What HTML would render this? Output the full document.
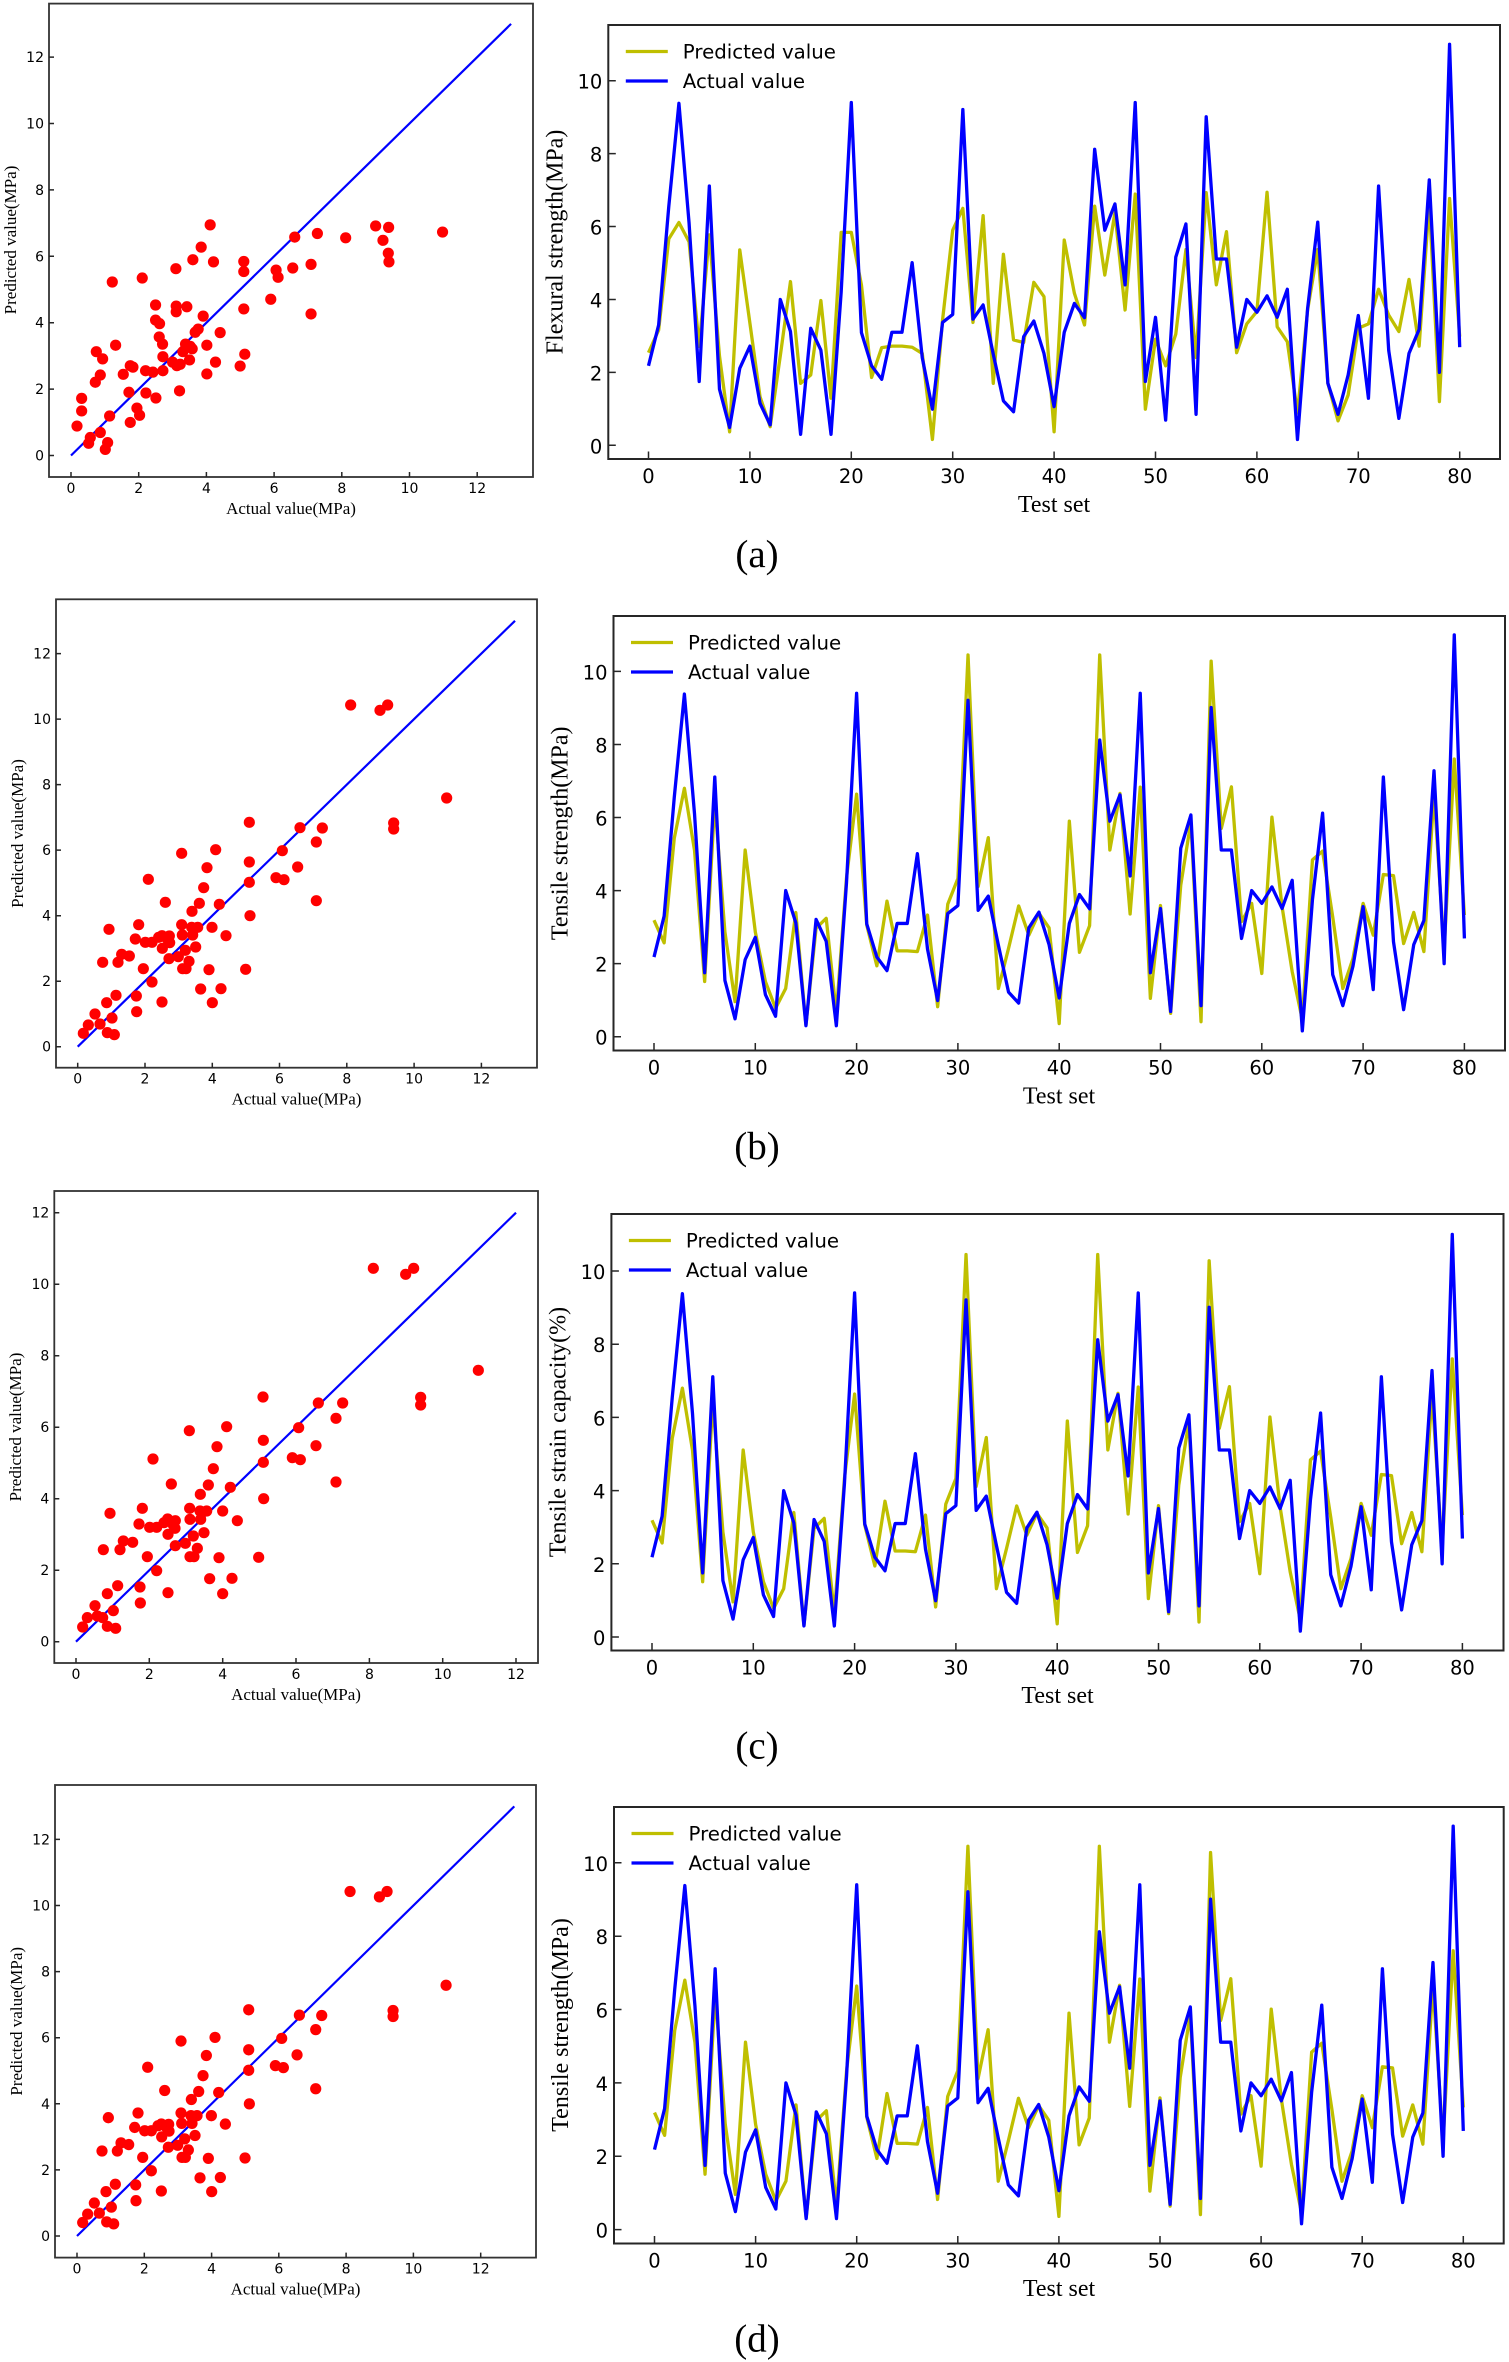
<!DOCTYPE html>
<html>
<head>
<meta charset="utf-8">
<style>
html,body{margin:0;padding:0;background:#fff;}
svg{display:block;}
.tk{font:19.5px "DejaVu Sans",sans-serif;fill:#000}
.st{font:14px "DejaVu Sans",sans-serif;fill:#000}
.lg{font:19.8px "DejaVu Sans",sans-serif;fill:#000}
.sl{font:17px "Liberation Serif",serif;fill:#000}
.ll{font:24px "Liberation Serif",serif;fill:#000}
.pl{font:39px "Liberation Serif",serif;fill:#000}
.fr{fill:none;stroke:#262626;stroke-width:2}
.sf{fill:none;stroke:#333;stroke-width:1.8}
.tm{fill:none;stroke:#262626;stroke-width:1.5}
.yl{fill:none;stroke:#bfbf00;stroke-width:3.3;stroke-linejoin:round}
.bl{fill:none;stroke:#0000ff;stroke-width:3.3;stroke-linejoin:round}
.dg{stroke:#0000ff;stroke-width:2.2}
</style>
</head>
<body>
<svg width="1509" height="2362" viewBox="0 0 1509 2362" xmlns="http://www.w3.org/2000/svg">
<rect width="1509" height="2362" fill="#fff"/>

<!-- ================= PANEL A ================= -->
<!-- scatter a -->
<line class="dg" x1="71" y1="455.5" x2="511.05" y2="23.9"/>
<g fill="#ff0000" transform="translate(71 455.5) scale(0.33294 0.35923) translate(-212 -1272)">
<ellipse cx="230" cy="1190" rx="16.8" ry="15.6"/><ellipse cx="244" cy="1113" rx="16.8" ry="15.6"/><ellipse cx="244" cy="1148" rx="16.8" ry="15.6"/><ellipse cx="265" cy="1238" rx="16.8" ry="15.6"/><ellipse cx="270" cy="1222" rx="16.8" ry="15.6"/><ellipse cx="285" cy="1068" rx="16.8" ry="15.6"/><ellipse cx="288" cy="983" rx="16.8" ry="15.6"/><ellipse cx="300" cy="1048" rx="16.8" ry="15.6"/><ellipse cx="300" cy="1208" rx="16.8" ry="15.6"/><ellipse cx="307" cy="1003" rx="16.8" ry="15.6"/><ellipse cx="315" cy="1255" rx="16.8" ry="15.6"/><ellipse cx="322" cy="1236" rx="16.8" ry="15.6"/><ellipse cx="328" cy="1162" rx="16.8" ry="15.6"/><ellipse cx="336" cy="789" rx="16.8" ry="15.6"/><ellipse cx="346" cy="965" rx="16.8" ry="15.6"/><ellipse cx="369" cy="1046" rx="16.8" ry="15.6"/><ellipse cx="386" cy="1096" rx="16.8" ry="15.6"/><ellipse cx="390" cy="1180" rx="16.8" ry="15.6"/><ellipse cx="390" cy="1022" rx="16.8" ry="15.6"/><ellipse cx="398" cy="1026" rx="16.8" ry="15.6"/><ellipse cx="410" cy="1140" rx="16.8" ry="15.6"/><ellipse cx="418" cy="1160" rx="16.8" ry="15.6"/><ellipse cx="426" cy="778" rx="16.8" ry="15.6"/><ellipse cx="436" cy="1036" rx="16.8" ry="15.6"/><ellipse cx="437" cy="1098" rx="16.8" ry="15.6"/><ellipse cx="458" cy="1040" rx="16.8" ry="15.6"/><ellipse cx="466" cy="853" rx="16.8" ry="15.6"/><ellipse cx="466" cy="895" rx="16.8" ry="15.6"/><ellipse cx="467" cy="1112" rx="16.8" ry="15.6"/><ellipse cx="478" cy="905" rx="16.8" ry="15.6"/><ellipse cx="477" cy="942" rx="16.8" ry="15.6"/><ellipse cx="487" cy="962" rx="16.8" ry="15.6"/><ellipse cx="488" cy="997" rx="16.8" ry="15.6"/><ellipse cx="488" cy="1036" rx="16.8" ry="15.6"/><ellipse cx="517" cy="1012" rx="16.8" ry="15.6"/><ellipse cx="527" cy="752" rx="16.8" ry="15.6"/><ellipse cx="528" cy="856" rx="16.8" ry="15.6"/><ellipse cx="528" cy="872" rx="16.8" ry="15.6"/><ellipse cx="530" cy="1022" rx="16.8" ry="15.6"/><ellipse cx="538" cy="1092" rx="16.8" ry="15.6"/><ellipse cx="540" cy="1018" rx="16.8" ry="15.6"/><ellipse cx="548" cy="983" rx="16.8" ry="15.6"/><ellipse cx="556" cy="962" rx="16.8" ry="15.6"/><ellipse cx="560" cy="858" rx="16.8" ry="15.6"/><ellipse cx="568" cy="1006" rx="16.8" ry="15.6"/><ellipse cx="570" cy="968" rx="16.8" ry="15.6"/><ellipse cx="576" cy="975" rx="16.8" ry="15.6"/><ellipse cx="578" cy="727" rx="16.8" ry="15.6"/><ellipse cx="585" cy="929" rx="16.8" ry="15.6"/><ellipse cx="594" cy="920" rx="16.8" ry="15.6"/><ellipse cx="603" cy="692" rx="16.8" ry="15.6"/><ellipse cx="609" cy="884" rx="16.8" ry="15.6"/><ellipse cx="620" cy="965" rx="16.8" ry="15.6"/><ellipse cx="620" cy="1045" rx="16.8" ry="15.6"/><ellipse cx="630" cy="630" rx="16.8" ry="15.6"/><ellipse cx="640" cy="733" rx="16.8" ry="15.6"/><ellipse cx="646" cy="1012" rx="16.8" ry="15.6"/><ellipse cx="660" cy="930" rx="16.8" ry="15.6"/><ellipse cx="720" cy="1023" rx="16.8" ry="15.6"/><ellipse cx="731" cy="732" rx="16.8" ry="15.6"/><ellipse cx="731" cy="760" rx="16.8" ry="15.6"/><ellipse cx="731" cy="864" rx="16.8" ry="15.6"/><ellipse cx="734" cy="990" rx="16.8" ry="15.6"/><ellipse cx="812" cy="837" rx="16.8" ry="15.6"/><ellipse cx="828" cy="756" rx="16.8" ry="15.6"/><ellipse cx="834" cy="776" rx="16.8" ry="15.6"/><ellipse cx="878" cy="750" rx="16.8" ry="15.6"/><ellipse cx="884" cy="664" rx="16.8" ry="15.6"/><ellipse cx="933" cy="740" rx="16.8" ry="15.6"/><ellipse cx="933" cy="878" rx="16.8" ry="15.6"/><ellipse cx="952" cy="654" rx="16.8" ry="15.6"/><ellipse cx="1037" cy="666" rx="16.8" ry="15.6"/><ellipse cx="1127" cy="633" rx="16.8" ry="15.6"/><ellipse cx="1149" cy="673" rx="16.8" ry="15.6"/><ellipse cx="1166" cy="637" rx="16.8" ry="15.6"/><ellipse cx="1165" cy="709" rx="16.8" ry="15.6"/><ellipse cx="1167" cy="733" rx="16.8" ry="15.6"/><ellipse cx="1328" cy="650" rx="16.8" ry="15.6"/>
</g>
<rect class="sf" x="49" y="3.6" width="484" height="473.4"/>
<path class="tm" d="M49 455.5h5M49 389.1h5M49 322.7h5M49 256.3h5M49 189.9h5M49 123.5h5M49 57.1h5M71 477v-5M138.7 477v-5M206.4 477v-5M274.1 477v-5M341.8 477v-5M409.5 477v-5M477.2 477v-5"/>
<g class="st" text-anchor="end">
<text x="44" y="460.5">0</text><text x="44" y="394.1">2</text><text x="44" y="327.7">4</text><text x="44" y="261.3">6</text><text x="44" y="194.9">8</text><text x="44" y="128.5">10</text><text x="44" y="62.1">12</text>
</g>
<g class="st" text-anchor="middle">
<text x="71" y="493">0</text><text x="138.7" y="493">2</text><text x="206.4" y="493">4</text><text x="274.1" y="493">6</text><text x="341.8" y="493">8</text><text x="409.5" y="493">10</text><text x="477.2" y="493">12</text>
</g>
<text class="sl" text-anchor="middle" x="291" y="514">Actual value(MPa)</text>
<text class="sl" text-anchor="middle" transform="translate(15.8 240) rotate(-90)">Predicted value(MPa)</text>

<!-- line chart a -->
<polyline class="yl" vector-effect="non-scaling-stroke" transform="translate(648.5 445.3) scale(10.14 -36.46)" points="0,2.54 1,3.16 2,5.66 3,6.11 4,5.58 5,2.71 6,5.77 7,2.45 8,0.37 9,5.36 10,3.35 11,1.33 12,0.51 13,2.46 14,4.49 15,1.70 16,1.93 17,3.97 18,1.29 19,5.84 20,5.84 21,4.4 22,1.86 23,2.68 24,2.72 25,2.72 26,2.69 27,2.52 28,0.16 29,3.44 30,5.9 31,6.5 32,3.37 33,6.3 34,1.70 35,5.24 36,2.89 37,2.82 38,4.47 39,4.08 40,0.37 41,5.63 42,4.17 43,3.30 44,6.56 45,4.67 46,6.38 47,3.71 48,6.89 49,0.99 50,2.91 51,2.18 52,3.05 53,5.37 54,2.41 55,6.93 56,4.40 57,5.86 58,2.54 59,3.33 60,3.67 61,6.94 62,3.25 63,2.84 64,0.89 65,3.71 66,5.37 67,1.70 68,0.67 69,1.38 70,3.21 71,3.33 72,4.28 73,3.57 74,3.12 75,4.55 76,2.72 77,6.69 78,1.20 79,6.77 80,2.98"/>
<polyline class="bl" vector-effect="non-scaling-stroke" transform="translate(648.5 445.3) scale(10.14 -36.46)" points="0,2.18 1,3.30 2,6.55 3,9.38 4,6.1 5,1.75 6,7.11 7,1.54 8,0.49 9,2.11 10,2.72 11,1.15 12,0.56 13,4.0 14,3.12 15,0.30 16,3.21 17,2.61 18,0.30 19,4.2 20,9.40 21,3.09 22,2.18 23,1.81 24,3.10 25,3.10 26,5.01 27,2.4 28,0.99 29,3.37 30,3.59 31,9.21 32,3.46 33,3.85 34,2.5 35,1.22 36,0.92 37,2.98 38,3.41 39,2.52 40,1.06 41,3.10 42,3.89 43,3.50 44,8.12 45,5.90 46,6.62 47,4.40 48,9.40 49,1.75 50,3.51 51,0.69 52,5.16 53,6.07 54,0.85 55,9.01 56,5.11 57,5.11 58,2.69 59,4.0 60,3.65 61,4.10 62,3.51 63,4.28 64,0.16 65,3.75 66,6.12 67,1.70 68,0.85 69,1.93 70,3.56 71,1.29 72,7.11 73,2.6 74,0.74 75,2.52 76,3.18 77,7.28 78,2.0 79,11.0 80,2.69"/>
<rect class="fr" x="608.3" y="25" width="891.7" height="434"/>
<path class="tm" d="M608.3 445.3h7.5M608.3 372.4h7.5M608.3 299.5h7.5M608.3 226.5h7.5M608.3 153.6h7.5M608.3 80.7h7.5M648.5 459v-7.5M749.9 459v-7.5M851.3 459v-7.5M952.7 459v-7.5M1054.1 459v-7.5M1155.5 459v-7.5M1256.9 459v-7.5M1358.3 459v-7.5M1459.7 459v-7.5"/>
<g class="tk" text-anchor="end">
<text x="602.3" y="453.3">0</text><text x="602.3" y="380.4">2</text><text x="602.3" y="307.5">4</text><text x="602.3" y="234.5">6</text><text x="602.3" y="161.6">8</text><text x="602.3" y="88.7">10</text>
</g>
<g class="tk" text-anchor="middle">
<text x="648.5" y="483">0</text><text x="749.9" y="483">10</text><text x="851.3" y="483">20</text><text x="952.7" y="483">30</text><text x="1054.1" y="483">40</text><text x="1155.5" y="483">50</text><text x="1256.9" y="483">60</text><text x="1358.3" y="483">70</text><text x="1459.7" y="483">80</text>
</g>
<line x1="625.8" y1="51.5" x2="667.8" y2="51.5" stroke="#bfbf00" stroke-width="3.3"/>
<line x1="625.8" y1="81" x2="667.8" y2="81" stroke="#0000ff" stroke-width="3.3"/>
<text class="lg" x="682.8" y="58.5">Predicted value</text>
<text class="lg" x="682.8" y="88">Actual value</text>
<text class="ll" text-anchor="middle" transform="translate(562.5 242) rotate(-90)">Flexural strength(MPa)</text>
<text class="ll" text-anchor="middle" x="1054" y="512">Test set</text>
<text class="pl" text-anchor="middle" x="757" y="567">(a)</text>

<!-- ================= PANEL B ================= -->
<line class="dg" x1="77.7" y1="1046.7" x2="515" y2="620.8"/>
<g fill="#ff0000" transform="translate(20 590) scale(0.33333)">
<circle cx="190" cy="1330" r="16.8"/><circle cx="205" cy="1305" r="16.8"/><circle cx="225" cy="1272" r="16.8"/><circle cx="240" cy="1302" r="16.8"/><circle cx="248" cy="1117" r="16.8"/><circle cx="260" cy="1238" r="16.8"/><circle cx="262" cy="1328" r="16.8"/><circle cx="267" cy="1018" r="16.8"/><circle cx="276" cy="1284" r="16.8"/><circle cx="283" cy="1334" r="16.8"/><circle cx="288" cy="1216" r="16.8"/><circle cx="294" cy="1117" r="16.8"/><circle cx="305" cy="1093" r="16.8"/><circle cx="328" cy="1098" r="16.8"/><circle cx="346" cy="1047" r="16.8"/><circle cx="349" cy="1218" r="16.8"/><circle cx="350" cy="1265" r="16.8"/><circle cx="356" cy="1004" r="16.8"/><circle cx="370" cy="1136" r="16.8"/><circle cx="376" cy="1057" r="16.8"/><circle cx="385" cy="868" r="16.8"/><circle cx="396" cy="1057" r="16.8"/><circle cx="396" cy="1176" r="16.8"/><circle cx="416" cy="1042" r="16.8"/><circle cx="426" cy="1037" r="16.8"/><circle cx="426" cy="1236" r="16.8"/><circle cx="427" cy="1075" r="16.8"/><circle cx="436" cy="937" r="16.8"/><circle cx="441" cy="1046" r="16.8"/><circle cx="447" cy="1106" r="16.8"/><circle cx="448" cy="1038" r="16.8"/><circle cx="449" cy="1058" r="16.8"/><circle cx="475" cy="1100" r="16.8"/><circle cx="485" cy="790" r="16.8"/><circle cx="485" cy="1004" r="16.8"/><circle cx="487" cy="1035" r="16.8"/><circle cx="488" cy="1136" r="16.8"/><circle cx="496" cy="1081" r="16.8"/><circle cx="498" cy="1136" r="16.8"/><circle cx="507" cy="1114" r="16.8"/><circle cx="516" cy="964" r="16.8"/><circle cx="515" cy="1012" r="16.8"/><circle cx="518" cy="1035" r="16.8"/><circle cx="527" cy="1071" r="16.8"/><circle cx="533" cy="1012" r="16.8"/><circle cx="538" cy="940" r="16.8"/><circle cx="542" cy="1197" r="16.8"/><circle cx="551" cy="893" r="16.8"/><circle cx="561" cy="833" r="16.8"/><circle cx="567" cy="1139" r="16.8"/><circle cx="576" cy="1012" r="16.8"/><circle cx="577" cy="1238" r="16.8"/><circle cx="587" cy="779" r="16.8"/><circle cx="598" cy="943" r="16.8"/><circle cx="603" cy="1196" r="16.8"/><circle cx="618" cy="1037" r="16.8"/><circle cx="677" cy="1138" r="16.8"/><circle cx="688" cy="697" r="16.8"/><circle cx="688" cy="816" r="16.8"/><circle cx="688" cy="877" r="16.8"/><circle cx="690" cy="977" r="16.8"/><circle cx="768" cy="863" r="16.8"/><circle cx="787" cy="782" r="16.8"/><circle cx="792" cy="869" r="16.8"/><circle cx="833" cy="831" r="16.8"/><circle cx="840" cy="713" r="16.8"/><circle cx="889" cy="756" r="16.8"/><circle cx="889" cy="932" r="16.8"/><circle cx="907" cy="714" r="16.8"/><circle cx="992" cy="345" r="16.8"/><circle cx="1080" cy="361" r="16.8"/><circle cx="1103" cy="345" r="16.8"/><circle cx="1121" cy="699" r="16.8"/><circle cx="1121" cy="717" r="16.8"/><circle cx="1280" cy="624" r="16.8"/>
</g>
<rect class="sf" x="56" y="599.3" width="481" height="468.4"/>
<path class="tm" d="M56 1046.7h5M56 981.2h5M56 915.7h5M56 850.1h5M56 784.6h5M56 719.1h5M56 653.6h5M77.7 1067.7v-5M145 1067.7v-5M212.3 1067.7v-5M279.5 1067.7v-5M346.8 1067.7v-5M414.1 1067.7v-5M481.4 1067.7v-5"/>
<g class="st" text-anchor="end">
<text x="51" y="1051.7">0</text><text x="51" y="986.2">2</text><text x="51" y="920.7">4</text><text x="51" y="855.1">6</text><text x="51" y="789.6">8</text><text x="51" y="724.1">10</text><text x="51" y="658.6">12</text>
</g>
<g class="st" text-anchor="middle">
<text x="77.7" y="1083.7">0</text><text x="145" y="1083.7">2</text><text x="212.3" y="1083.7">4</text><text x="279.5" y="1083.7">6</text><text x="346.8" y="1083.7">8</text><text x="414.1" y="1083.7">10</text><text x="481.4" y="1083.7">12</text>
</g>
<text class="sl" text-anchor="middle" x="296.5" y="1104.7">Actual value(MPa)</text>
<text class="sl" text-anchor="middle" transform="translate(22.8 833.5) rotate(-90)">Predicted value(MPa)</text>

<polyline class="yl" vector-effect="non-scaling-stroke" transform="translate(654 1036.7) scale(10.13 -36.53)" points="0,3.19 1,2.57 2,5.43 3,6.80 4,5.1 5,1.51 6,6.43 7,2.87 8,0.96 9,5.11 10,2.87 11,1.51 12,0.78 13,1.32 14,3.40 15,0.32 16,2.97 17,3.24 18,0.64 19,4.34 20,6.64 21,3.06 22,1.94 23,3.71 24,2.35 25,2.35 26,2.33 27,3.33 28,0.82 29,3.63 30,4.33 31,10.45 32,4.11 33,5.45 34,1.32 35,2.42 36,3.58 37,2.78 38,3.38 39,2.98 40,0.36 41,5.90 42,2.31 43,3.04 44,10.45 45,5.11 46,6.66 47,3.36 48,6.83 49,1.05 50,3.59 51,0.64 52,4.15 53,5.88 54,0.41 55,10.28 56,5.70 57,6.84 58,3.15 59,3.65 60,1.73 61,6.01 62,3.56 63,1.78 64,0.46 65,4.84 66,5.08 67,3.28 68,1.32 69,2.14 70,3.65 71,2.78 72,4.44 73,4.41 74,2.55 75,3.40 76,2.33 77,6.67 78,2.38 79,7.60 80,3.33"/>
<polyline class="bl" vector-effect="non-scaling-stroke" transform="translate(654 1036.7) scale(10.13 -36.53)" points="0,2.18 1,3.30 2,6.55 3,9.38 4,6.1 5,1.75 6,7.11 7,1.54 8,0.49 9,2.11 10,2.72 11,1.15 12,0.56 13,4.0 14,3.12 15,0.30 16,3.21 17,2.61 18,0.30 19,4.2 20,9.40 21,3.09 22,2.18 23,1.81 24,3.10 25,3.10 26,5.01 27,2.4 28,0.99 29,3.37 30,3.59 31,9.21 32,3.46 33,3.85 34,2.5 35,1.22 36,0.92 37,2.98 38,3.41 39,2.52 40,1.06 41,3.10 42,3.89 43,3.50 44,8.12 45,5.90 46,6.62 47,4.40 48,9.40 49,1.75 50,3.51 51,0.69 52,5.16 53,6.07 54,0.85 55,9.01 56,5.11 57,5.11 58,2.69 59,4.0 60,3.65 61,4.10 62,3.51 63,4.28 64,0.16 65,3.75 66,6.12 67,1.70 68,0.85 69,1.93 70,3.56 71,1.29 72,7.11 73,2.6 74,0.74 75,2.52 76,3.18 77,7.28 78,2.0 79,11.0 80,2.69"/>
<rect class="fr" x="613.5" y="616" width="891.5" height="434.5"/>
<path class="tm" d="M613.5 1036.7h7.5M613.5 963.6h7.5M613.5 890.6h7.5M613.5 817.5h7.5M613.5 744.5h7.5M613.5 671.4h7.5M654 1050.5v-7.5M755.3 1050.5v-7.5M856.6 1050.5v-7.5M957.9 1050.5v-7.5M1059.2 1050.5v-7.5M1160.5 1050.5v-7.5M1261.8 1050.5v-7.5M1363.1 1050.5v-7.5M1464.4 1050.5v-7.5"/>
<g class="tk" text-anchor="end">
<text x="607.5" y="1044.7">0</text><text x="607.5" y="971.6">2</text><text x="607.5" y="898.6">4</text><text x="607.5" y="825.5">6</text><text x="607.5" y="752.5">8</text><text x="607.5" y="679.4">10</text>
</g>
<g class="tk" text-anchor="middle">
<text x="654" y="1074.5">0</text><text x="755.3" y="1074.5">10</text><text x="856.6" y="1074.5">20</text><text x="957.9" y="1074.5">30</text><text x="1059.2" y="1074.5">40</text><text x="1160.5" y="1074.5">50</text><text x="1261.8" y="1074.5">60</text><text x="1363.1" y="1074.5">70</text><text x="1464.4" y="1074.5">80</text>
</g>
<line x1="631" y1="642.5" x2="673" y2="642.5" stroke="#bfbf00" stroke-width="3.3"/>
<line x1="631" y1="672" x2="673" y2="672" stroke="#0000ff" stroke-width="3.3"/>
<text class="lg" x="688" y="649.5">Predicted value</text>
<text class="lg" x="688" y="679">Actual value</text>
<text class="ll" text-anchor="middle" transform="translate(567.7 833.3) rotate(-90)">Tensile strength(MPa)</text>
<text class="ll" text-anchor="middle" x="1059" y="1103.5">Test set</text>
<text class="pl" text-anchor="middle" x="757" y="1159">(b)</text>

<!-- ================= PANEL C ================= -->
<line class="dg" x1="76" y1="1641.7" x2="516" y2="1212.7"/>
<g fill="#ff0000" transform="translate(20 1185) scale(0.33333)">
<circle cx="188" cy="1326" r="16.8"/><circle cx="202" cy="1298" r="16.8"/><circle cx="225" cy="1262" r="16.8"/><circle cx="232" cy="1293" r="16.8"/><circle cx="248" cy="1298" r="16.8"/><circle cx="250" cy="1094" r="16.8"/><circle cx="262" cy="1226" r="16.8"/><circle cx="262" cy="1324" r="16.8"/><circle cx="270" cy="985" r="16.8"/><circle cx="280" cy="1277" r="16.8"/><circle cx="287" cy="1330" r="16.8"/><circle cx="293" cy="1202" r="16.8"/><circle cx="300" cy="1094" r="16.8"/><circle cx="310" cy="1068" r="16.8"/><circle cx="338" cy="1072" r="16.8"/><circle cx="357" cy="1017" r="16.8"/><circle cx="360" cy="1206" r="16.8"/><circle cx="361" cy="1254" r="16.8"/><circle cx="367" cy="970" r="16.8"/><circle cx="382" cy="1115" r="16.8"/><circle cx="389" cy="1027" r="16.8"/><circle cx="399" cy="822" r="16.8"/><circle cx="410" cy="1027" r="16.8"/><circle cx="410" cy="1157" r="16.8"/><circle cx="432" cy="1013" r="16.8"/><circle cx="443" cy="1002" r="16.8"/><circle cx="444" cy="1223" r="16.8"/><circle cx="444" cy="1048" r="16.8"/><circle cx="454" cy="897" r="16.8"/><circle cx="460" cy="1020" r="16.8"/><circle cx="465" cy="1030" r="16.8"/><circle cx="466" cy="1007" r="16.8"/><circle cx="466" cy="1082" r="16.8"/><circle cx="496" cy="1075" r="16.8"/><circle cx="508" cy="737" r="16.8"/><circle cx="509" cy="970" r="16.8"/><circle cx="510" cy="1003" r="16.8"/><circle cx="510" cy="1115" r="16.8"/><circle cx="520" cy="1053" r="16.8"/><circle cx="522" cy="1115" r="16.8"/><circle cx="532" cy="1090" r="16.8"/><circle cx="541" cy="928" r="16.8"/><circle cx="540" cy="978" r="16.8"/><circle cx="542" cy="1003" r="16.8"/><circle cx="552" cy="1043" r="16.8"/><circle cx="560" cy="978" r="16.8"/><circle cx="565" cy="900" r="16.8"/><circle cx="569" cy="1181" r="16.8"/><circle cx="580" cy="851" r="16.8"/><circle cx="591" cy="785" r="16.8"/><circle cx="597" cy="1118" r="16.8"/><circle cx="608" cy="978" r="16.8"/><circle cx="608" cy="1226" r="16.8"/><circle cx="620" cy="725" r="16.8"/><circle cx="631" cy="907" r="16.8"/><circle cx="636" cy="1180" r="16.8"/><circle cx="652" cy="1007" r="16.8"/><circle cx="716" cy="1117" r="16.8"/><circle cx="729" cy="636" r="16.8"/><circle cx="730" cy="766" r="16.8"/><circle cx="730" cy="832" r="16.8"/><circle cx="731" cy="941" r="16.8"/><circle cx="817" cy="818" r="16.8"/><circle cx="836" cy="728" r="16.8"/><circle cx="841" cy="824" r="16.8"/><circle cx="888" cy="782" r="16.8"/><circle cx="895" cy="654" r="16.8"/><circle cx="948" cy="700" r="16.8"/><circle cx="948" cy="891" r="16.8"/><circle cx="968" cy="654" r="16.8"/><circle cx="1060" cy="250" r="16.8"/><circle cx="1157" cy="268" r="16.8"/><circle cx="1181" cy="250" r="16.8"/><circle cx="1202" cy="637" r="16.8"/><circle cx="1202" cy="660" r="16.8"/><circle cx="1375" cy="556" r="16.8"/>
</g>
<rect class="sf" x="54.3" y="1191" width="483.7" height="472"/>
<path class="tm" d="M54.3 1641.7h5M54.3 1570.2h5M54.3 1498.7h5M54.3 1427.2h5M54.3 1355.7h5M54.3 1284.2h5M54.3 1212.7h5M76 1663v-5M149.3 1663v-5M222.7 1663v-5M296 1663v-5M369.4 1663v-5M442.7 1663v-5M516 1663v-5"/>
<g class="st" text-anchor="end">
<text x="49.3" y="1646.7">0</text><text x="49.3" y="1575.2">2</text><text x="49.3" y="1503.7">4</text><text x="49.3" y="1432.2">6</text><text x="49.3" y="1360.7">8</text><text x="49.3" y="1289.2">10</text><text x="49.3" y="1217.7">12</text>
</g>
<g class="st" text-anchor="middle">
<text x="76" y="1679">0</text><text x="149.3" y="1679">2</text><text x="222.7" y="1679">4</text><text x="296" y="1679">6</text><text x="369.4" y="1679">8</text><text x="442.7" y="1679">10</text><text x="516" y="1679">12</text>
</g>
<text class="sl" text-anchor="middle" x="296" y="1700">Actual value(MPa)</text>
<text class="sl" text-anchor="middle" transform="translate(21.1 1427) rotate(-90)">Predicted value(MPa)</text>

<polyline class="yl" vector-effect="non-scaling-stroke" transform="translate(652 1637) scale(10.13 -36.6)" points="0,3.19 1,2.57 2,5.43 3,6.80 4,5.1 5,1.51 6,6.43 7,2.87 8,0.96 9,5.11 10,2.87 11,1.51 12,0.78 13,1.32 14,3.40 15,0.32 16,2.97 17,3.24 18,0.64 19,4.34 20,6.64 21,3.06 22,1.94 23,3.71 24,2.35 25,2.35 26,2.33 27,3.33 28,0.82 29,3.63 30,4.33 31,10.45 32,4.11 33,5.45 34,1.32 35,2.42 36,3.58 37,2.78 38,3.38 39,2.98 40,0.36 41,5.90 42,2.31 43,3.04 44,10.45 45,5.11 46,6.66 47,3.36 48,6.83 49,1.05 50,3.59 51,0.64 52,4.15 53,5.88 54,0.41 55,10.28 56,5.70 57,6.84 58,3.15 59,3.65 60,1.73 61,6.01 62,3.56 63,1.78 64,0.46 65,4.84 66,5.08 67,3.28 68,1.32 69,2.14 70,3.65 71,2.78 72,4.44 73,4.41 74,2.55 75,3.40 76,2.33 77,6.67 78,2.38 79,7.60 80,3.33"/>
<polyline class="bl" vector-effect="non-scaling-stroke" transform="translate(652 1637) scale(10.13 -36.6)" points="0,2.18 1,3.30 2,6.55 3,9.38 4,6.1 5,1.75 6,7.11 7,1.54 8,0.49 9,2.11 10,2.72 11,1.15 12,0.56 13,4.0 14,3.12 15,0.30 16,3.21 17,2.61 18,0.30 19,4.2 20,9.40 21,3.09 22,2.18 23,1.81 24,3.10 25,3.10 26,5.01 27,2.4 28,0.99 29,3.37 30,3.59 31,9.21 32,3.46 33,3.85 34,2.5 35,1.22 36,0.92 37,2.98 38,3.41 39,2.52 40,1.06 41,3.10 42,3.89 43,3.50 44,8.12 45,5.90 46,6.62 47,4.40 48,9.40 49,1.75 50,3.51 51,0.69 52,5.16 53,6.07 54,0.85 55,9.01 56,5.11 57,5.11 58,2.69 59,4.0 60,3.65 61,4.10 62,3.51 63,4.28 64,0.16 65,3.75 66,6.12 67,1.70 68,0.85 69,1.93 70,3.56 71,1.29 72,7.11 73,2.6 74,0.74 75,2.52 76,3.18 77,7.28 78,2.0 79,11.0 80,2.69"/>
<rect class="fr" x="611.4" y="1214" width="892.1" height="436.5"/>
<path class="tm" d="M611.4 1637h7.5M611.4 1563.8h7.5M611.4 1490.6h7.5M611.4 1417.4h7.5M611.4 1344.2h7.5M611.4 1271h7.5M652 1650.5v-7.5M753.3 1650.5v-7.5M854.6 1650.5v-7.5M955.9 1650.5v-7.5M1057.2 1650.5v-7.5M1158.5 1650.5v-7.5M1259.8 1650.5v-7.5M1361.1 1650.5v-7.5M1462.4 1650.5v-7.5"/>
<g class="tk" text-anchor="end">
<text x="605.4" y="1645">0</text><text x="605.4" y="1571.8">2</text><text x="605.4" y="1498.6">4</text><text x="605.4" y="1425.4">6</text><text x="605.4" y="1352.2">8</text><text x="605.4" y="1279">10</text>
</g>
<g class="tk" text-anchor="middle">
<text x="652" y="1674.5">0</text><text x="753.3" y="1674.5">10</text><text x="854.6" y="1674.5">20</text><text x="955.9" y="1674.5">30</text><text x="1057.2" y="1674.5">40</text><text x="1158.5" y="1674.5">50</text><text x="1259.8" y="1674.5">60</text><text x="1361.1" y="1674.5">70</text><text x="1462.4" y="1674.5">80</text>
</g>
<line x1="628.9" y1="1240.5" x2="670.9" y2="1240.5" stroke="#bfbf00" stroke-width="3.3"/>
<line x1="628.9" y1="1270" x2="670.9" y2="1270" stroke="#0000ff" stroke-width="3.3"/>
<text class="lg" x="685.9" y="1247.5">Predicted value</text>
<text class="lg" x="685.9" y="1277">Actual value</text>
<text class="ll" text-anchor="middle" transform="translate(565.6 1432) rotate(-90)">Tensile strain capacity(%)</text>
<text class="ll" text-anchor="middle" x="1057.5" y="1703">Test set</text>
<text class="pl" text-anchor="middle" x="757" y="1758.5">(c)</text>

<!-- ================= PANEL D ================= -->
<line class="dg" x1="77" y1="2236" x2="514.3" y2="1806.4"/>
<g fill="#ff0000" transform="translate(77 2236) scale(0.3334 0.33611) translate(-173 -1370)">
<circle cx="190" cy="1330" r="16.8"/><circle cx="205" cy="1305" r="16.8"/><circle cx="225" cy="1272" r="16.8"/><circle cx="240" cy="1302" r="16.8"/><circle cx="248" cy="1117" r="16.8"/><circle cx="260" cy="1238" r="16.8"/><circle cx="262" cy="1328" r="16.8"/><circle cx="267" cy="1018" r="16.8"/><circle cx="276" cy="1284" r="16.8"/><circle cx="283" cy="1334" r="16.8"/><circle cx="288" cy="1216" r="16.8"/><circle cx="294" cy="1117" r="16.8"/><circle cx="305" cy="1093" r="16.8"/><circle cx="328" cy="1098" r="16.8"/><circle cx="346" cy="1047" r="16.8"/><circle cx="349" cy="1218" r="16.8"/><circle cx="350" cy="1265" r="16.8"/><circle cx="356" cy="1004" r="16.8"/><circle cx="370" cy="1136" r="16.8"/><circle cx="376" cy="1057" r="16.8"/><circle cx="385" cy="868" r="16.8"/><circle cx="396" cy="1057" r="16.8"/><circle cx="396" cy="1176" r="16.8"/><circle cx="416" cy="1042" r="16.8"/><circle cx="426" cy="1037" r="16.8"/><circle cx="426" cy="1236" r="16.8"/><circle cx="427" cy="1075" r="16.8"/><circle cx="436" cy="937" r="16.8"/><circle cx="441" cy="1046" r="16.8"/><circle cx="447" cy="1106" r="16.8"/><circle cx="448" cy="1038" r="16.8"/><circle cx="449" cy="1058" r="16.8"/><circle cx="475" cy="1100" r="16.8"/><circle cx="485" cy="790" r="16.8"/><circle cx="485" cy="1004" r="16.8"/><circle cx="487" cy="1035" r="16.8"/><circle cx="488" cy="1136" r="16.8"/><circle cx="496" cy="1081" r="16.8"/><circle cx="498" cy="1136" r="16.8"/><circle cx="507" cy="1114" r="16.8"/><circle cx="516" cy="964" r="16.8"/><circle cx="515" cy="1012" r="16.8"/><circle cx="518" cy="1035" r="16.8"/><circle cx="527" cy="1071" r="16.8"/><circle cx="533" cy="1012" r="16.8"/><circle cx="538" cy="940" r="16.8"/><circle cx="542" cy="1197" r="16.8"/><circle cx="551" cy="893" r="16.8"/><circle cx="561" cy="833" r="16.8"/><circle cx="567" cy="1139" r="16.8"/><circle cx="576" cy="1012" r="16.8"/><circle cx="577" cy="1238" r="16.8"/><circle cx="587" cy="779" r="16.8"/><circle cx="598" cy="943" r="16.8"/><circle cx="603" cy="1196" r="16.8"/><circle cx="618" cy="1037" r="16.8"/><circle cx="677" cy="1138" r="16.8"/><circle cx="688" cy="697" r="16.8"/><circle cx="688" cy="816" r="16.8"/><circle cx="688" cy="877" r="16.8"/><circle cx="690" cy="977" r="16.8"/><circle cx="768" cy="863" r="16.8"/><circle cx="787" cy="782" r="16.8"/><circle cx="792" cy="869" r="16.8"/><circle cx="833" cy="831" r="16.8"/><circle cx="840" cy="713" r="16.8"/><circle cx="889" cy="756" r="16.8"/><circle cx="889" cy="932" r="16.8"/><circle cx="907" cy="714" r="16.8"/><circle cx="992" cy="345" r="16.8"/><circle cx="1080" cy="361" r="16.8"/><circle cx="1103" cy="345" r="16.8"/><circle cx="1121" cy="699" r="16.8"/><circle cx="1121" cy="717" r="16.8"/><circle cx="1280" cy="624" r="16.8"/>
</g>
<rect class="sf" x="55" y="1785" width="481" height="472.6"/>
<path class="tm" d="M55 2236h5M55 2169.9h5M55 2103.8h5M55 2037.7h5M55 1971.6h5M55 1905.5h5M55 1839.4h5M77 2257.6v-5M144.3 2257.6v-5M211.6 2257.6v-5M278.8 2257.6v-5M346.1 2257.6v-5M413.4 2257.6v-5M480.7 2257.6v-5"/>
<g class="st" text-anchor="end">
<text x="50" y="2241">0</text><text x="50" y="2174.9">2</text><text x="50" y="2108.8">4</text><text x="50" y="2042.7">6</text><text x="50" y="1976.6">8</text><text x="50" y="1910.5">10</text><text x="50" y="1844.4">12</text>
</g>
<g class="st" text-anchor="middle">
<text x="77" y="2273.6">0</text><text x="144.3" y="2273.6">2</text><text x="211.6" y="2273.6">4</text><text x="278.8" y="2273.6">6</text><text x="346.1" y="2273.6">8</text><text x="413.4" y="2273.6">10</text><text x="480.7" y="2273.6">12</text>
</g>
<text class="sl" text-anchor="middle" x="295.5" y="2294.6">Actual value(MPa)</text>
<text class="sl" text-anchor="middle" transform="translate(21.8 2021.3) rotate(-90)">Predicted value(MPa)</text>

<polyline class="yl" vector-effect="non-scaling-stroke" transform="translate(654.5 2229.6) scale(10.11 -36.68)" points="0,3.19 1,2.57 2,5.43 3,6.80 4,5.1 5,1.51 6,6.43 7,2.87 8,0.96 9,5.11 10,2.87 11,1.51 12,0.78 13,1.32 14,3.40 15,0.32 16,2.97 17,3.24 18,0.64 19,4.34 20,6.64 21,3.06 22,1.94 23,3.71 24,2.35 25,2.35 26,2.33 27,3.33 28,0.82 29,3.63 30,4.33 31,10.45 32,4.11 33,5.45 34,1.32 35,2.42 36,3.58 37,2.78 38,3.38 39,2.98 40,0.36 41,5.90 42,2.31 43,3.04 44,10.45 45,5.11 46,6.66 47,3.36 48,6.83 49,1.05 50,3.59 51,0.64 52,4.15 53,5.88 54,0.41 55,10.28 56,5.70 57,6.84 58,3.15 59,3.65 60,1.73 61,6.01 62,3.56 63,1.78 64,0.46 65,4.84 66,5.08 67,3.28 68,1.32 69,2.14 70,3.65 71,2.78 72,4.44 73,4.41 74,2.55 75,3.40 76,2.33 77,6.67 78,2.38 79,7.60 80,3.33"/>
<polyline class="bl" vector-effect="non-scaling-stroke" transform="translate(654.5 2229.6) scale(10.11 -36.68)" points="0,2.18 1,3.30 2,6.55 3,9.38 4,6.1 5,1.75 6,7.11 7,1.54 8,0.49 9,2.11 10,2.72 11,1.15 12,0.56 13,4.0 14,3.12 15,0.30 16,3.21 17,2.61 18,0.30 19,4.2 20,9.40 21,3.09 22,2.18 23,1.81 24,3.10 25,3.10 26,5.01 27,2.4 28,0.99 29,3.37 30,3.59 31,9.21 32,3.46 33,3.85 34,2.5 35,1.22 36,0.92 37,2.98 38,3.41 39,2.52 40,1.06 41,3.10 42,3.89 43,3.50 44,8.12 45,5.90 46,6.62 47,4.40 48,9.40 49,1.75 50,3.51 51,0.69 52,5.16 53,6.07 54,0.85 55,9.01 56,5.11 57,5.11 58,2.69 59,4.0 60,3.65 61,4.10 62,3.51 63,4.28 64,0.16 65,3.75 66,6.12 67,1.70 68,0.85 69,1.93 70,3.56 71,1.29 72,7.11 73,2.6 74,0.74 75,2.52 76,3.18 77,7.28 78,2.0 79,11.0 80,2.69"/>
<rect class="fr" x="614" y="1807" width="889.7" height="436.5"/>
<path class="tm" d="M614 2229.6h7.5M614 2156.2h7.5M614 2082.9h7.5M614 2009.5h7.5M614 1936.2h7.5M614 1862.8h7.5M654.5 2243.5v-7.5M755.6 2243.5v-7.5M856.7 2243.5v-7.5M957.8 2243.5v-7.5M1058.9 2243.5v-7.5M1160 2243.5v-7.5M1261.1 2243.5v-7.5M1362.2 2243.5v-7.5M1463.3 2243.5v-7.5"/>
<g class="tk" text-anchor="end">
<text x="608" y="2237.6">0</text><text x="608" y="2164.2">2</text><text x="608" y="2090.9">4</text><text x="608" y="2017.5">6</text><text x="608" y="1944.2">8</text><text x="608" y="1870.8">10</text>
</g>
<g class="tk" text-anchor="middle">
<text x="654.5" y="2267.5">0</text><text x="755.6" y="2267.5">10</text><text x="856.7" y="2267.5">20</text><text x="957.8" y="2267.5">30</text><text x="1058.9" y="2267.5">40</text><text x="1160" y="2267.5">50</text><text x="1261.1" y="2267.5">60</text><text x="1362.2" y="2267.5">70</text><text x="1463.3" y="2267.5">80</text>
</g>
<line x1="631.5" y1="1833.5" x2="673.5" y2="1833.5" stroke="#bfbf00" stroke-width="3.3"/>
<line x1="631.5" y1="1863" x2="673.5" y2="1863" stroke="#0000ff" stroke-width="3.3"/>
<text class="lg" x="688.5" y="1840.5">Predicted value</text>
<text class="lg" x="688.5" y="1870">Actual value</text>
<text class="ll" text-anchor="middle" transform="translate(568.2 2025) rotate(-90)">Tensile strength(MPa)</text>
<text class="ll" text-anchor="middle" x="1059" y="2296">Test set</text>
<text class="pl" text-anchor="middle" x="757" y="2351.5">(d)</text>
</svg>
</body>
</html>
